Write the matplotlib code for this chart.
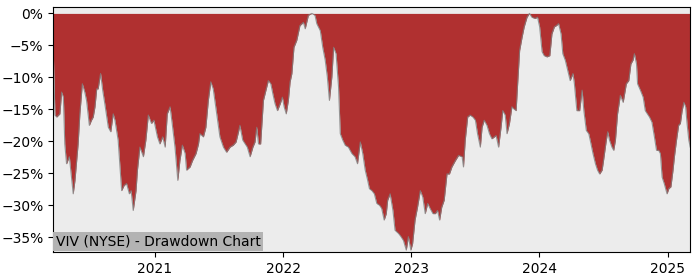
import pandas as pd
import matplotlib
matplotlib.use("Agg")
import matplotlib.pyplot as plt
import matplotlib.dates as mdates
from matplotlib.ticker import PercentFormatter

ticker = "VIV (NYSE)"

# drawdown turning points (percent from running peak)
dates = [
    "2020-03-17", "2020-03-22", "2020-03-27", "2020-04-05", "2020-04-10", "2020-04-15", "2020-04-19",
    "2020-04-24", "2020-05-02", "2020-05-08", "2020-05-13", "2020-05-18", "2020-05-27", "2020-06-01",
    "2020-06-08", "2020-06-15", "2020-06-20", "2020-06-28", "2020-07-04", "2020-07-09", "2020-07-14",
    "2020-07-19", "2020-07-23", "2020-07-30", "2020-08-05", "2020-08-11", "2020-08-21", "2020-08-28",
    "2020-09-04", "2020-09-09", "2020-09-18", "2020-09-28", "2020-10-05", "2020-10-12", "2020-10-20",
    "2020-10-25", "2020-10-31", "2020-11-08", "2020-11-12", "2020-11-19", "2020-11-29", "2020-12-06",
    "2020-12-13", "2020-12-22", "2020-12-29",
    "2021-01-04", "2021-01-08", "2021-01-15", "2021-01-23", "2021-01-30", "2021-02-05", "2021-02-13",
    "2021-02-19", "2021-02-27", "2021-03-07", "2021-03-13", "2021-03-20", "2021-03-28", "2021-04-01",
    "2021-04-11", "2021-04-18", "2021-04-28", "2021-05-05", "2021-05-09", "2021-05-19", "2021-05-26",
    "2021-06-02", "2021-06-09", "2021-06-16", "2021-06-26", "2021-07-05", "2021-07-15", "2021-07-24",
    "2021-08-03", "2021-08-12", "2021-08-20", "2021-08-27", "2021-08-31", "2021-09-08", "2021-09-15",
    "2021-09-21", "2021-09-29", "2021-10-07", "2021-10-13", "2021-10-18", "2021-10-23", "2021-10-29",
    "2021-11-06", "2021-11-14", "2021-11-20", "2021-11-27", "2021-12-03", "2021-12-09", "2021-12-16",
    "2021-12-24", "2021-12-30",
    "2022-01-04", "2022-01-10", "2022-01-16", "2022-01-21", "2022-01-26", "2022-02-01", "2022-02-09",
    "2022-02-18", "2022-02-28", "2022-03-05", "2022-03-14", "2022-03-24", "2022-04-02", "2022-04-07",
    "2022-04-17", "2022-04-24", "2022-05-01", "2022-05-07", "2022-05-13", "2022-05-20", "2022-05-25",
    "2022-06-01", "2022-06-08", "2022-06-13", "2022-06-20", "2022-06-27", "2022-07-06", "2022-07-16",
    "2022-07-25", "2022-08-01", "2022-08-09", "2022-08-16", "2022-08-23", "2022-08-30", "2022-09-04",
    "2022-09-11", "2022-09-18", "2022-09-25", "2022-10-03", "2022-10-09", "2022-10-16", "2022-10-22",
    "2022-10-26", "2022-11-02", "2022-11-10", "2022-11-16", "2022-11-26", "2022-12-03", "2022-12-10",
    "2022-12-18", "2022-12-24", "2022-12-31",
    "2023-01-05", "2023-01-12", "2023-01-19", "2023-01-27", "2023-02-03", "2023-02-10", "2023-02-17",
    "2023-02-24", "2023-03-04", "2023-03-11", "2023-03-17", "2023-03-23", "2023-03-29", "2023-04-05",
    "2023-04-13", "2023-04-20", "2023-04-27", "2023-05-07", "2023-05-16", "2023-05-26", "2023-05-30",
    "2023-06-04", "2023-06-11", "2023-06-18", "2023-06-26", "2023-07-03", "2023-07-09", "2023-07-17",
    "2023-07-22", "2023-07-28", "2023-08-05", "2023-08-12", "2023-08-19", "2023-08-26", "2023-08-31",
    "2023-09-07", "2023-09-14", "2023-09-19", "2023-09-26", "2023-10-01", "2023-10-08", "2023-10-15",
    "2023-10-20", "2023-10-27", "2023-10-31", "2023-11-06", "2023-11-13", "2023-11-19", "2023-11-27",
    "2023-12-04", "2023-12-11", "2023-12-20", "2023-12-27",
    "2024-01-02", "2024-01-09", "2024-01-15", "2024-01-23", "2024-01-31", "2024-02-06", "2024-02-13",
    "2024-02-19", "2024-02-25", "2024-03-03", "2024-03-08", "2024-03-15", "2024-03-22", "2024-03-29",
    "2024-04-06", "2024-04-10", "2024-04-17", "2024-04-25", "2024-05-02", "2024-05-07", "2024-05-14",
    "2024-05-21", "2024-05-25", "2024-06-02", "2024-06-09", "2024-06-15", "2024-06-21", "2024-06-28",
    "2024-07-02", "2024-07-10", "2024-07-14", "2024-07-19", "2024-07-26", "2024-07-31", "2024-08-05",
    "2024-08-11", "2024-08-19", "2024-08-27", "2024-09-05", "2024-09-12", "2024-09-18", "2024-09-24",
    "2024-09-28", "2024-10-04", "2024-10-07", "2024-10-15", "2024-10-23", "2024-10-29", "2024-11-04",
    "2024-11-10", "2024-11-17", "2024-11-24", "2024-11-30", "2024-12-06", "2024-12-11", "2024-12-16",
    "2024-12-22", "2024-12-30",
    "2025-01-04", "2025-01-10", "2025-01-16", "2025-01-20", "2025-01-26", "2025-02-01", "2025-02-06",
    "2025-02-11", "2025-02-16", "2025-02-21", "2025-02-25", "2025-03-02", "2025-03-06",
]

drawdown = [
    -5.5, -15.9, -16.2, -15.7, -12.3, -13.1, -20.4,
    -23.5, -22.4, -25.6, -28.2, -26.1, -20.4, -15.7,
    -11.0, -12.3, -13.6, -17.5, -16.7, -16.2, -14.6,
    -11.8, -11.8, -9.4, -12.0, -14.1, -17.8, -18.5,
    -15.7, -16.7, -19.8, -27.7, -26.9, -26.6, -28.2,
    -27.7, -30.8, -27.7, -24.5, -20.9, -22.4, -19.8,
    -15.9, -17.2, -16.7,
    -18.3, -19.3, -20.4, -19.3, -20.9, -15.7, -14.6,
    -17.2, -20.9, -26.1, -23.0, -20.6, -21.9, -24.5,
    -24.0, -23.0, -21.9, -20.4, -18.8, -19.3, -17.8,
    -13.6, -10.7, -11.8, -15.7, -19.3, -20.9, -21.7,
    -20.9, -20.6, -20.1, -18.5, -17.5, -19.8, -20.4,
    -20.9, -22.4, -20.9, -20.1, -17.8, -20.4, -20.4,
    -13.6, -11.8, -10.5, -11.0, -12.6, -14.1, -15.2,
    -14.1, -13.1,
    -14.6, -15.7, -13.6, -10.7, -9.4, -5.3, -4.2,
    -1.9, -1.4, -2.4, -0.3, 0.0, -0.3, -1.6,
    -2.7, -5.3, -7.3, -9.9, -13.6, -9.9, -5.3,
    -6.3, -11.5, -18.8, -19.8, -20.6, -20.9, -21.9,
    -22.4, -23.5, -20.1, -21.9, -24.5, -26.1, -27.4,
    -27.7, -28.2, -29.7, -30.0, -30.5, -32.3, -31.3,
    -29.2, -28.2, -30.8, -33.9, -34.4, -34.9, -35.5,
    -37.0, -34.9, -37.0,
    -36.0, -32.3, -30.3, -27.7, -28.7, -31.3, -29.7,
    -30.5, -31.3, -31.3, -30.8, -32.3, -30.3, -29.2,
    -25.1, -25.1, -24.0, -23.0, -22.2, -22.4, -24.0,
    -19.8, -16.2, -15.9, -16.2, -16.7, -18.8, -20.9,
    -17.8, -16.7, -17.5, -18.8, -19.6, -19.3, -19.1,
    -20.9, -17.8, -15.2, -15.9, -18.8, -17.2, -14.6,
    -14.9, -15.2, -11.3, -5.8, -3.7, -2.1, -0.6,
    0.0, -0.6, -0.8, -0.6,
    -2.1, -6.0, -6.6, -6.8, -6.6, -3.2, -2.1,
    -1.9, -1.6, -3.2, -6.3, -7.3, -8.9, -10.5,
    -9.4, -11.0, -15.2, -15.2, -12.0, -15.2, -18.3,
    -18.8, -19.8, -21.9, -23.5, -24.5, -25.1, -24.5,
    -23.0, -19.8, -18.5, -19.8, -20.9, -21.4, -19.8,
    -15.7, -12.8, -13.9, -11.0, -10.5, -7.9, -7.3,
    -6.3, -7.9, -11.0, -12.0, -13.1, -15.2, -15.7,
    -16.2, -17.0, -19.3, -21.4, -21.4, -21.9, -25.6,
    -26.6, -28.2,
    -27.4, -27.1, -24.5, -22.4, -19.8, -17.5, -17.2,
    -15.2, -13.9, -14.6, -17.2, -19.8, -20.9,
]

df = pd.DataFrame({"date": pd.to_datetime(dates), "dd": [v / 100 for v in drawdown]})

fig = plt.figure(figsize=(7, 2.8), dpi=100)
ax = fig.add_axes([0.076, 0.1, 0.91, 0.875])
ax.set_facecolor("#ececec")

ax.fill_between(df["date"], df["dd"], 0, color="#b03030", linewidth=0)
ax.plot(df["date"], df["dd"], color="grey", linewidth=0.8, alpha=0.8)

ax.set_xlim(df["date"].iloc[0], df["date"].iloc[-1])
ax.set_ylim(-0.373, 0.01)
ax.yaxis.set_major_formatter(PercentFormatter(1.0, decimals=0))
ax.xaxis.set_major_locator(mdates.YearLocator())
ax.xaxis.set_major_formatter(mdates.DateFormatter("%Y"))

ax.text(0.004, 0.015, f"{ticker} - Drawdown Chart", transform=ax.transAxes,
        fontsize=10, ha="left", va="bottom",
        bbox=dict(facecolor="#b3b3b3", edgecolor="none", pad=2))

fig.savefig("out.png", dpi=100)
